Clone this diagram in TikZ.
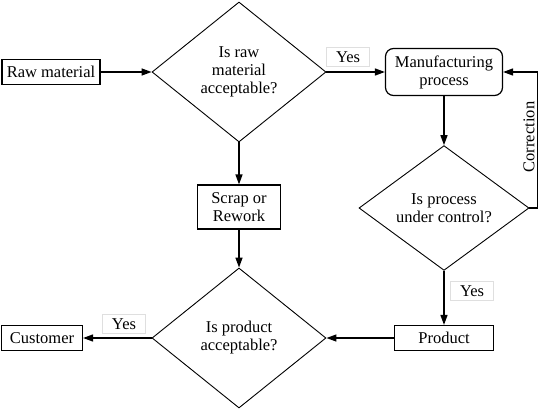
\documentclass[tikz,border=0pt]{standalone}
\usepackage{fontspec}
\setmainfont{Liberation Serif}
\usetikzlibrary{arrows.meta, shapes.geometric, positioning}

\begin{document}
\begin{tikzpicture}[x=1pt, y=-1pt, >={Triangle[length=10pt,width=7pt]},
  every node/.style={font=\fontsize{16.5}{18}\selectfont, inner sep=0pt, align=center},
  box/.style={draw, line width=1.2pt, minimum height=25pt},
  decision/.style={draw, diamond, line width=0.9pt},
  yeslabel/.style={draw=gray!25, line width=0.6pt, minimum width=43pt, minimum height=19pt},
  arr/.style={->, line width=1.4pt}]
  \useasboundingbox (0,0) rectangle (545,409);

  % Boxes
  \node[box, minimum width=98pt] (raw) at (51,72) {Raw material};
  \node[box, minimum width=117pt, minimum height=47pt, rounded corners=8pt] (mp) at (444,72) {Manufacturing\\process};
  \node[box, minimum width=83pt, minimum height=44pt] (scrap) at (239,207) {Scrap or\\Rework};
  \node[box, minimum width=99pt] (prod) at (444,338) {Product};
  \node[box, minimum width=81pt] (cust) at (42,338) {Customer};

  % Decisions
  \node[decision, minimum width=174pt, minimum height=140pt] (rawok) at (239,72) {Is raw\\material\\acceptable?};
  \node[decision, minimum width=170pt, minimum height=122pt] (ctrl) at (444,208) {Is process\\under control?};
  \node[decision, minimum width=174pt, minimum height=140pt] (prodok) at (239,338) {Is product\\acceptable?};

  % Labels
  \node[yeslabel] (yes1) at (348,57) {Yes};
  \node[yeslabel] (yes2) at (472,291) {Yes};
  \node[yeslabel] (yes3) at (124,324) {Yes};
  \node[rotate=90] (corr) at (529,137) {Correction};

  % Flow
  \draw[arr] (raw.east) -- (rawok.west);
  \draw[arr] (rawok.east) -- (mp.west);
  \draw[arr] (mp.south) -- (ctrl.north);
  \draw[arr] (ctrl.east) -- ++(8,0) |- (mp.east);
  \draw[arr] (ctrl.south) -- (prod.north);
  \draw[arr] (prod.west) -- (prodok.east);
  \draw[arr] (rawok.south) -- (scrap.north);
  \draw[arr] (scrap.south) -- (prodok.north);
  \draw[arr] (prodok.west) -- (cust.east);
\end{tikzpicture}
\end{document}
